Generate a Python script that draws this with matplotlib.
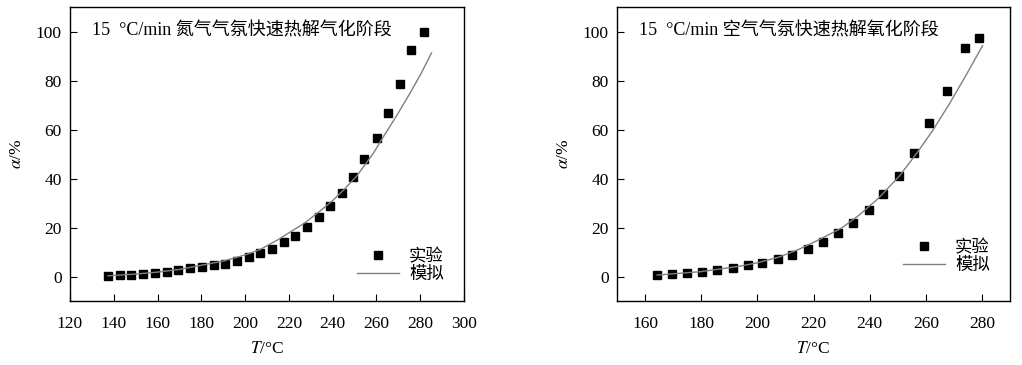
import matplotlib
matplotlib.use('Agg')
import matplotlib.pyplot as plt

plt.rcParams['font.family'] = ['Liberation Serif', 'Noto Sans CJK SC']
plt.rcParams['mathtext.fontset'] = 'stix'

# nitrogen, fast pyrolysis gasification stage
n2_T = [137.4, 142.9, 147.9, 153.5, 159.0, 164.3, 169.5, 175.0, 180.3, 185.6,
        190.9, 196.4, 201.7, 206.9, 212.2, 217.7, 222.9, 228.2, 233.7, 238.8,
        244.2, 249.5, 254.5, 260.1, 265.3, 270.6, 275.6, 281.6]
n2_exp = [0.3, 0.5, 0.7, 1.1, 1.5, 1.9, 2.7, 3.4, 3.9, 4.6,
          5.3, 6.5, 7.9, 9.4, 11.4, 13.9, 16.6, 20.2, 24.2, 28.9,
          34.2, 40.8, 48.0, 56.5, 66.7, 78.7, 92.4, 99.6]
n2_sim_T = [137.4, 150, 160, 170, 180, 190, 200, 206.8, 215, 220.5, 227,
            234.2, 240, 245, 251, 258.6, 262, 266.2, 270, 275, 280, 285.2]
n2_sim = [0.3, 1.0, 1.8, 2.9, 4.6, 6.3, 8.8, 11.0, 15.0, 18.1, 21.7,
          26.7, 31.0, 35.3, 41.0, 50.3, 55.4, 61.3, 66.8, 74.3, 82.2, 91.3]

# air, fast pyrolysis oxidation stage
air_T = [164.3, 169.6, 174.9, 180.2, 185.8, 191.2, 196.6, 201.8, 207.2, 212.5,
         218.0, 223.4, 228.9, 234.2, 239.6, 244.9, 250.5, 255.9, 261.2, 267.7,
         274.1, 279.1]
air_exp = [0.8, 1.2, 1.6, 2.0, 2.6, 3.5, 4.5, 5.4, 7.1, 8.9,
           11.2, 13.9, 17.7, 21.9, 27.1, 33.7, 41.1, 50.4, 62.5, 75.7,
           93.3, 97.5]
air_sim_T = [164.3, 170, 180, 190, 193.6, 200, 207.9, 215, 222.1, 230,
             236.3, 243, 250.6, 256.5, 262.4, 268.4, 274.3, 280.2]
air_sim = [0.6, 1.1, 2.0, 3.6, 4.2, 5.6, 8.0, 11.2, 15.1, 19.8,
           25.1, 31.8, 41.0, 49.9, 59.5, 70.5, 82.1, 94.2]

fig = plt.figure(figsize=(10.22, 3.65), dpi=100)
ax1 = fig.add_axes([0.0685, 0.1753, 0.3855, 0.8055])
ax2 = fig.add_axes([0.6037, 0.1753, 0.3846, 0.8055])

panels = [
    (ax1, n2_T, n2_exp, n2_sim_T, n2_sim, '15  °C/min 氮气气氛快速热解气化阶段',
     (120, 300), range(120, 301, 20), (0.975, 0.025)),
    (ax2, air_T, air_exp, air_sim_T, air_sim, '15  °C/min 空气气氛快速热解氧化阶段',
     (150, 290), range(160, 281, 20), (0.975, 0.055)),
]

for ax, T, exp, sT, sim, title, xlim, xticks, anchor in panels:
    ax.plot(T, exp, 's', color='black', ms=6, label='实验')
    ax.plot(sT, sim, '-', color='#808080', lw=1.0, label='模拟')
    ax.set_xlim(*xlim)
    ax.set_ylim(-10, 110)
    ax.set_xticks(list(xticks))
    ax.set_yticks(range(0, 101, 20))
    ax.tick_params(direction='in', length=5, width=0.8, labelsize=12.5, pad=6)
    ax.tick_params(axis='x', pad=11)
    for s in ax.spines.values():
        s.set_linewidth(1.0)
    ax.set_xlabel(r'$T$/°C', fontsize=12.5, labelpad=6)
    ax.set_ylabel(r'$\alpha$/%', fontsize=12.5, labelpad=8)
    ax.text(0.056, 0.918, title, transform=ax.transAxes, fontsize=13,
            va='center', ha='left')
    ax.legend(loc='lower right', bbox_to_anchor=anchor, frameon=False,
              numpoints=1, fontsize=12.5, handlelength=2.4, handletextpad=0.6,
              labelspacing=0.1, borderpad=0.1)

fig.savefig('out.png', dpi=100)
